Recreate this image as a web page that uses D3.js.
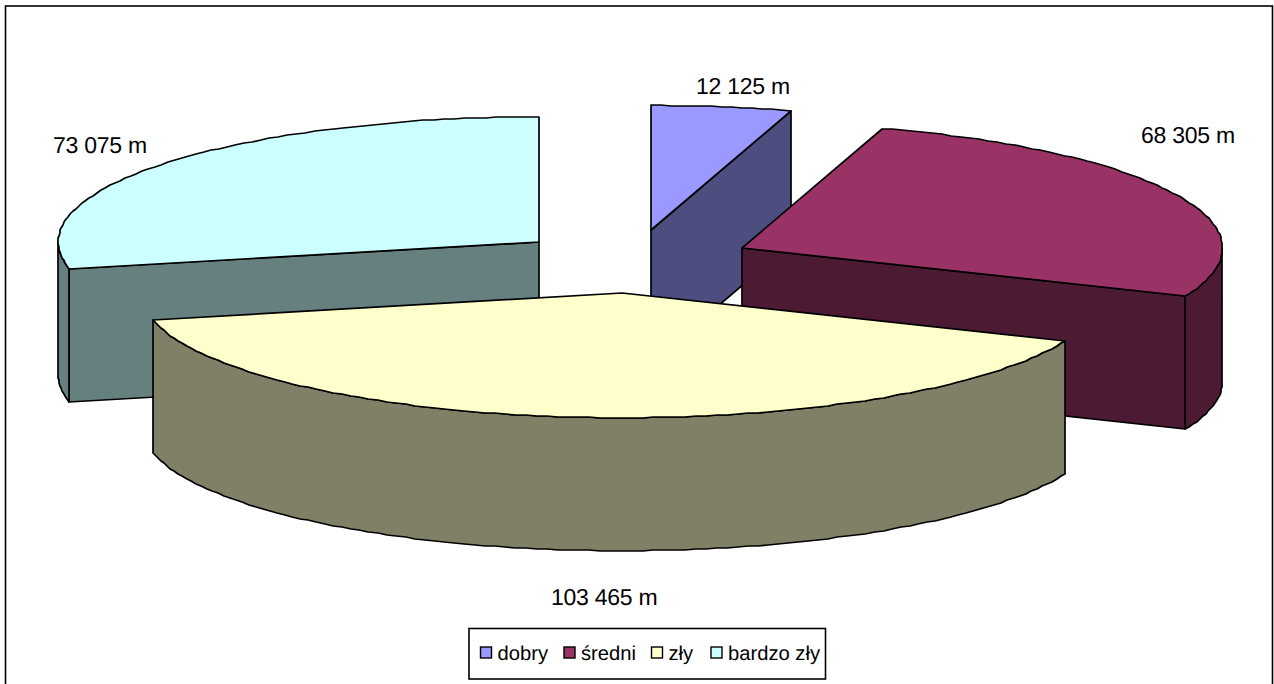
<!DOCTYPE html>
<html><head><meta charset="utf-8">
<script src="https://cdnjs.cloudflare.com/ajax/libs/d3/7.8.5/d3.min.js"></script>
<style>html,body{margin:0;padding:0;background:#fff;overflow:hidden}svg{display:block}text{font-family:"Liberation Sans",Arial,sans-serif;fill:#000;text-rendering:geometricPrecision}</style>
</head><body><svg id="c" width="1274" height="684"></svg>
<script>
const categories = ["dobry", "średni", "zły", "bardzo zły"];
const metres = [12125, 68305, 103465, 73075];
const valueLabels = ["12 125 m", "68 305 m", "103 465 m", "73 075 m"];
const topColors = ["#9999FF", "#993366", "#FFFFCC", "#CCFFFF"];
const sideColors = ["#4D4D80", "#4D1A33", "#808066", "#668080"];

const cx = 632.8, cy = 261.5, rx = 480.5, ry = 125, depth = 133, explode = 0.251;
const svg = d3.select("#c");
svg.append("rect").attr("x", 5.5).attr("y", 6).attr("width", 1267).attr("height", 690)
  .attr("fill", "#fff").attr("stroke", "#000").attr("stroke-width", 1.6);

const arcs = d3.pie().sort(null).startAngle(0).endAngle(2 * Math.PI)(metres);
const sx = d3.scaleLinear().domain([-1, 1]).range([cx - rx, cx + rx]);
const sy = d3.scaleLinear().domain([-1, 1]).range([cy - ry, cy + ry]);
const apex = a => { const m = (a.startAngle + a.endAngle) / 2; return [explode * Math.sin(m), -explode * Math.cos(m)]; };
const pt = (a, t, r, dz) => { const e = apex(a); return [sx(e[0] + r * Math.sin(t)), sy(e[1] - r * Math.cos(t)) + dz]; };
const line = d3.line().x(p => Math.round(p[0])).y(p => Math.round(p[1]));
const sweep = (a, t0, t1, dz) => { const n = Math.max(2, Math.ceil((t1 - t0) * 45)); return d3.range(n + 1).map(i => pt(a, t0 + (t1 - t0) * i / n, 1, dz)); };
const style = s => s.attr("stroke", "#000").attr("stroke-width", 1.7).attr("stroke-linejoin", "round");

// back to front
[0, 3, 1, 2].forEach(i => {
  const a = arcs[i], g = svg.append("g");
  const s = a.startAngle, e = a.endAngle;
  if (Math.sin(e) > 0) {
    const p = [pt(a, 0, 0, 0), pt(a, e, 1, 0), pt(a, e, 1, depth), pt(a, 0, 0, depth)];
    g.append("path").attr("d", line(p) + "Z").attr("fill", sideColors[i]).call(style);
  }
  if (Math.sin(s) < 0) {
    const p = [pt(a, 0, 0, 0), pt(a, s, 1, 0), pt(a, s, 1, depth), pt(a, 0, 0, depth)];
    g.append("path").attr("d", line(p) + "Z").attr("fill", sideColors[i]).call(style);
  }
  const t0 = Math.max(s, Math.PI / 2), t1 = Math.min(e, 3 * Math.PI / 2);
  if (t1 > t0) {
    const p = sweep(a, t0, t1, 0).concat(sweep(a, t0, t1, depth).reverse());
    g.append("path").attr("d", line(p) + "Z").attr("fill", sideColors[i]).call(style);
  }
  const top = [pt(a, 0, 0, 0)].concat(sweep(a, s, e, 0));
  g.append("path").attr("d", line(top) + "Z").attr("fill", topColors[i]).call(style);
});

// value labels, placed by their left edge and baseline
const labelX = [696, 1141, 551, 53], labelY = [94, 142.5, 605, 153];
svg.selectAll("text.v").data(valueLabels).join("text").attr("class", "v")
  .attr("x", (d, i) => labelX[i]).attr("y", (d, i) => labelY[i])
  .attr("font-size", 23).attr("letter-spacing", -0.25).text(d => d);

// legend
svg.append("rect").attr("x", 469).attr("y", 628.5).attr("width", 356.5).attr("height", 50.5)
  .attr("fill", "#fff").attr("stroke", "#000").attr("stroke-width", 1.6);
const legendX = [480.5, 564, 651.5, 711];
const lg = svg.selectAll("g.l").data(categories).join("g").attr("class", "l")
  .attr("transform", (d, i) => `translate(${legendX[i]},647)`);
lg.append("rect").attr("width", 11).attr("height", 11).attr("fill", (d, i) => topColors[i])
  .attr("stroke", "#000").attr("stroke-width", 1.4);
lg.append("text").attr("x", 17).attr("y", 12.5).attr("font-size", 20.2).text(d => d);
</script></body></html>
